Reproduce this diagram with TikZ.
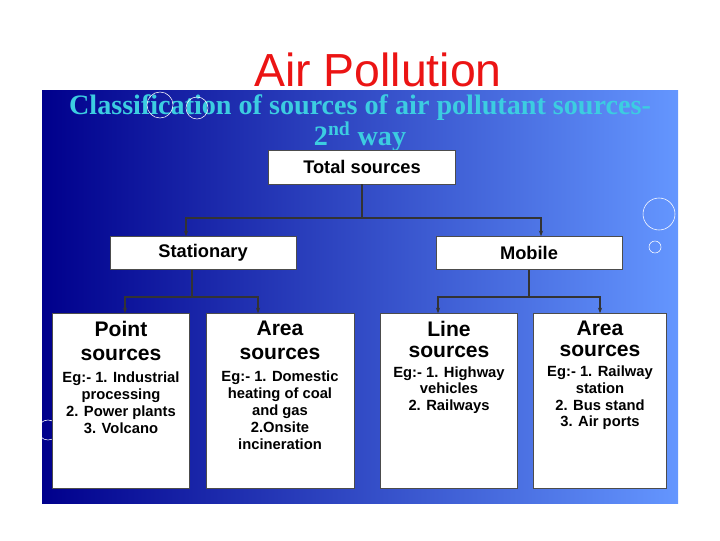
\documentclass[tikz,border=0pt]{standalone}
\usepackage{fontspec}
\setmainfont{Liberation Sans}
\newfontfamily\titleserif{Liberation Serif}
\usetikzlibrary{arrows.meta}
\definecolor{slideblue}{RGB}{0,0,140}
\definecolor{lightblue}{RGB}{100,150,255}
\definecolor{subcyan}{RGB}{60,205,225}
\definecolor{titlered}{RGB}{235,20,20}
\newcommand{\bighd}[1]{{\fontsize{15}{18}\selectfont #1}}

\begin{document}
\begin{tikzpicture}[x=0.025cm, y=-0.025cm, >={Stealth[length=4pt]},
  box/.style={draw=black!70, fill=white, inner sep=0pt},
  head/.style={font=\bfseries\fontsize{13}{15}\selectfont},
  boxtext/.style={below=2pt, align=center, font=\bfseries\fontsize{10.5}{12}\selectfont},
  conn/.style={draw=black!80, thick},
  bubble/.style={draw=white, thin}]
\useasboundingbox (0,0) rectangle (720,540);
\shade[left color=slideblue, right color=lightblue] (42,90) rectangle (678,503);
\node [text=titlered, font=\fontsize{33}{36}\selectfont] (title) at (378,70) {Air Pollution};
\node [text=subcyan, font=\titleserif\bfseries\fontsize{20}{21}\selectfont, align=center] (sub) at (360,123)
  {Classification of sources of air pollutant sources-\\2\textsuperscript{nd} way};
% decorative bubbles
\draw[bubble] (659,214) circle (16);
\draw[bubble] (655,247) circle (6);
\draw[bubble] (160,105) circle (13);
\draw[bubble] (197,108) circle (11);
\draw[bubble] (48,430) circle (10);
% boxes
\node [box, minimum width=187*0.025cm, minimum height=34*0.025cm, head] (total) at (362,167) {Total sources};
\node [box, minimum width=186*0.025cm, minimum height=33*0.025cm, head] (stat) at (203,253) {Stationary};
\node [box, minimum width=186*0.025cm, minimum height=33*0.025cm, head] (mobile) at (529,253) {Mobile};
\node [box, minimum width=137*0.025cm, minimum height=175*0.025cm] (point) at (121,401) {};
\node [box, minimum width=148*0.025cm, minimum height=175*0.025cm] (areaone) at (280,401) {};
\node [box, minimum width=137*0.025cm, minimum height=175*0.025cm] (linesrc) at (449,401) {};
\node [box, minimum width=133*0.025cm, minimum height=175*0.025cm] (areatwo) at (600,401) {};
\node [boxtext] (pointtxt) at (point.north)
  {\bighd{Point}\\[5pt]\bighd{sources}\\[4pt]Eg:- 1. Industrial\\processing\\2. Power plants\\3. Volcano};
\node [boxtext] (areaonetxt) at (areaone.north)
  {\bighd{Area}\\[5pt]\bighd{sources}\\[4pt]Eg:- 1. Domestic\\heating of coal\\and gas\\2.Onsite\\incineration};
\node [boxtext] (linetxt) at (linesrc.north)
  {\bighd{Line}\\[3pt]\bighd{sources}\\[2pt]Eg:- 1. Highway\\vehicles\\2. Railways};
\node [boxtext] (areatwotxt) at (areatwo.north)
  {\bighd{Area}\\[3pt]\bighd{sources}\\[2pt]Eg:- 1. Railway\\station\\2. Bus stand\\3. Air ports};
% connectors
\coordinate (jtop) at (362,218);
\coordinate (jstat) at (192,297);
\coordinate (jmob) at (529,297);
\draw[conn] (total.south) -- (jtop);
\draw[conn,->] (jtop) -| ([xshift=-17*0.025cm]stat.north);
\draw[conn,->] (jtop) -| ([xshift=12*0.025cm]mobile.north);
\draw[conn] (stat.south -| jstat) -- (jstat);
\draw[conn,->] (jstat) -| ([xshift=4*0.025cm]point.north);
\draw[conn,->] (jstat) -| ([xshift=-22*0.025cm]areaone.north);
\draw[conn] (mobile.south) -- (jmob);
\draw[conn,->] (jmob) -| ([xshift=-11*0.025cm]linesrc.north);
\draw[conn,->] (jmob) -| (areatwo.north);
\end{tikzpicture}
\end{document}
